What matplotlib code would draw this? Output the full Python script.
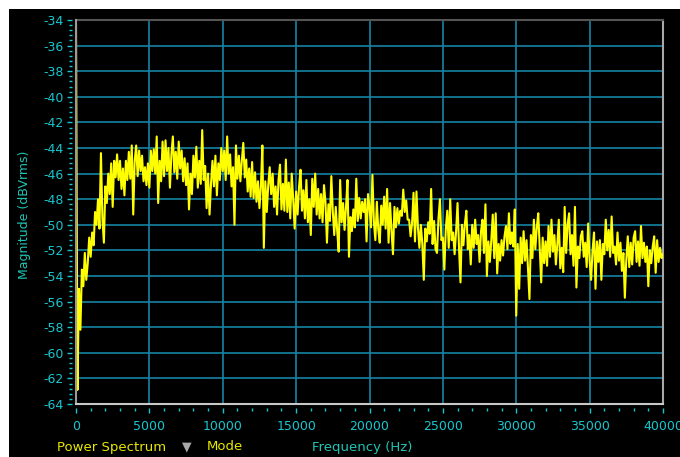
import numpy as np
import matplotlib
matplotlib.use("Agg")
import matplotlib.pyplot as plt
from matplotlib.patches import Rectangle
from matplotlib.ticker import MultipleLocator

plt.rcParams['axes.unicode_minus'] = False
plt.rcParams['font.family'] = ['DejaVu Sans']

# ---------------- data ----------------
freq_step_hz = 100
magnitude_dbvrms = [
    -34.4, -62.9, -55.0, -58.2, -53.5, -54.8, -52.2, -54.3, -53.0, -51.0,
    -52.5, -50.6, -51.6, -49.0, -50.0, -48.0, -50.3, -44.4, -49.5, -51.4,
    -47.0, -48.3, -46.0, -47.6, -45.2, -48.6, -45.0, -46.3, -44.5, -46.5,
    -45.0, -47.2, -45.6, -47.7, -45.0, -46.5, -44.3, -46.4, -43.8, -49.2,
    -45.0, -43.8, -46.2, -44.2, -45.8, -44.6, -46.6, -45.5, -46.9, -45.2,
    -47.1, -44.2, -45.8, -44.1, -46.0, -43.1, -48.3, -45.0, -46.6, -43.5,
    -46.2, -43.4, -45.8, -44.0, -47.1, -44.5, -43.1, -45.9, -44.3, -46.4,
    -43.5, -45.6, -44.2, -46.6, -44.8, -46.9, -45.2, -48.8, -46.0, -47.6,
    -44.6, -46.3, -43.9, -47.1, -45.0, -46.8, -42.6, -46.5, -45.4, -48.7,
    -46.0, -49.2, -46.8, -45.0, -47.0, -44.6, -47.7, -45.2, -46.5, -44.0,
    -45.8, -44.2, -46.5, -43.1, -46.0, -44.5, -47.0, -45.5, -50.0, -43.8,
    -46.4, -44.6, -46.6, -45.0, -43.6, -46.3, -44.9, -47.4, -45.6, -47.8,
    -45.1, -47.9, -45.9, -48.2, -46.6, -48.7, -47.0, -43.8, -51.8, -46.6,
    -49.0, -46.9, -45.5, -47.6, -46.0, -48.6, -47.0, -49.2, -46.5, -45.3,
    -48.8, -46.8, -48.9, -44.9, -49.0, -46.7, -49.5, -46.0, -48.0, -50.3,
    -47.4, -49.2, -47.0, -45.7, -48.9, -47.3, -49.5, -46.5, -49.8, -48.0,
    -50.8, -46.4, -48.6, -46.0, -49.2, -47.2, -49.5, -47.6, -49.8, -46.9,
    -48.2, -51.4, -48.4, -49.7, -46.2, -49.0, -50.8, -48.6, -50.5, -52.1,
    -46.5, -49.8, -48.3, -50.4, -48.6, -46.5, -52.5, -49.4, -50.5, -48.8,
    -50.2, -46.4, -49.7, -47.9, -49.5, -48.2, -49.0, -48.0, -51.3, -47.6,
    -48.6, -50.2, -46.1, -49.8, -51.2, -48.2, -50.4, -51.4, -48.5, -50.0,
    -47.8, -50.3, -47.2, -51.4, -48.3, -50.5, -52.3, -48.6, -50.2, -48.7,
    -49.9, -48.9, -49.3, -47.25, -49.0, -48.1, -49.6, -49.6, -50.9, -49.9,
    -47.5, -51.3, -47.4, -50.2, -51.8, -50.0, -51.5, -54.3, -50.3, -51.3,
    -49.8, -50.7, -47.2, -51.5, -49.7, -51.9, -52.2, -49.5, -48.0, -51.2,
    -51.0, -53.5, -50.3, -48.9, -51.8, -48.0, -51.2, -50.6, -52.3, -50.5,
    -48.3, -51.8, -54.5, -50.0, -51.6, -49.9, -48.9, -51.9, -50.8, -53.1,
    -50.0, -51.8, -49.6, -51.5, -50.8, -52.9, -50.5, -49.6, -52.2, -48.4,
    -54.0, -51.3, -52.9, -51.2, -49.2, -52.6, -49.1, -53.8, -51.5, -52.8,
    -51.2, -52.4, -50.9, -50.1, -51.9, -49.1, -51.5, -50.6, -51.7, -48.8,
    -57.1, -51.5, -55.0, -51.0, -53.0, -50.5, -52.8, -51.2, -53.4, -55.8,
    -50.8, -52.6, -49.6, -51.9, -50.2, -49.1, -51.8, -54.5, -51.0, -53.0,
    -51.3, -53.2, -50.1, -52.5, -49.6, -52.1, -50.8, -53.1, -51.5, -49.6,
    -53.4, -51.8, -53.7, -48.6, -52.2, -50.0, -49.1, -52.3, -50.8, -53.2,
    -48.6, -54.9, -51.7, -52.6, -50.9, -50.5, -52.5, -51.4, -53.3, -49.9,
    -52.8, -54.3, -52.0, -50.6, -55.0, -51.3, -52.9, -51.2, -54.3, -51.5,
    -52.3, -49.6, -52.0, -50.4, -52.5, -49.35, -52.2, -51.7, -53.1, -50.6,
    -52.8, -51.4, -53.6, -52.2, -55.7, -52.7, -50.9, -53.3, -51.4, -53.1,
    -51.0, -50.5, -52.9, -51.3, -53.2, -50.1, -52.6, -51.4, -52.9, -51.7,
    -54.8, -52.0, -53.0, -51.7, -50.9, -53.75, -51.2, -52.9, -51.8, -52.6,
    -52.3,
]
freq_hz = np.arange(len(magnitude_dbvrms)) * freq_step_hz

x_ticks = [0, 5000, 10000, 15000, 20000, 25000, 30000, 35000, 40000]
y_ticks = list(range(-64, -33, 2))

# ---------------- styling ----------------
W, H = 680, 457
tick_col = '#19c6cf'
label_col = '#1fc4b4'
yellow = '#ffff00'
text_yellow = '#e8e800'
grid_col = '#1584a4'

fig = plt.figure(figsize=(W / 100, H / 100), dpi=100, facecolor='white')
fig.add_artist(Rectangle((9 / W, 0), 1, 1 - 9 / H, transform=fig.transFigure,
                         facecolor='black', edgecolor='none', zorder=-5))

ax = fig.add_axes([76 / W, 1 - 404 / H, (663 - 76) / W, (404 - 20) / H])
ax.set_facecolor('black')
ax.plot(freq_hz, magnitude_dbvrms, color=yellow, lw=1.5, zorder=3)

ax.set_xlim(0, 40000)
ax.set_ylim(-64, -34)
ax.set_xticks(x_ticks)
ax.set_xticklabels([str(t) for t in x_ticks])
ax.set_yticks(y_ticks)
ax.set_yticklabels([str(t) for t in y_ticks])
ax.xaxis.set_minor_locator(MultipleLocator(1000))
ax.yaxis.set_minor_locator(MultipleLocator(0.4))
ax.grid(True, which='major', color=grid_col, lw=1.2)

ax.tick_params(axis='both', which='major', direction='out', length=3.8, width=1.0,
               colors=tick_col, labelsize=9)
ax.tick_params(axis='both', which='minor', direction='out', length=2.3, width=1.0,
               colors=tick_col)
ax.tick_params(axis='x', which='major', pad=5)
ax.tick_params(axis='y', which='major', pad=2)

for side in ('left', 'bottom'):
    ax.spines[side].set_position(('outward', 3))
    ax.spines[side].set_color('none')
ax.spines['top'].set_color('#555555')
ax.spines['right'].set_color('#a8a8a8')
ax.spines['top'].set_linewidth(1.5)
ax.spines['right'].set_linewidth(1.5)
ax.plot([0, 0], [0, 1], transform=ax.transAxes, clip_on=False, color='#9a9a9a', lw=1.5, zorder=4)
ax.plot([0, 1], [0, 0], transform=ax.transAxes, clip_on=False, color='#c8c8c8', lw=1.5, zorder=4)

fig.text(25 / W, 1 - 215 / H, 'Magnitude (dBVrms)', rotation=90, color=label_col,
         fontsize=9, ha='center', va='center')
fig.text(362 / W, 1 - 447 / H, 'Frequency (Hz)', color=label_col, fontsize=9.5,
         ha='center', va='center')
fig.text(57 / W, 1 - 447 / H, 'Power Spectrum', color=text_yellow, fontsize=9.5,
         ha='left', va='center')
fig.text(187 / W, 1 - 447 / H, '\u25BC', color='#a8a8a8', fontsize=9,
         ha='center', va='center')
fig.text(207 / W, 1 - 447 / H, 'Mode', color=text_yellow, fontsize=9.5,
         ha='left', va='center')

fig.savefig('out.png', dpi=100, facecolor=fig.get_facecolor())
